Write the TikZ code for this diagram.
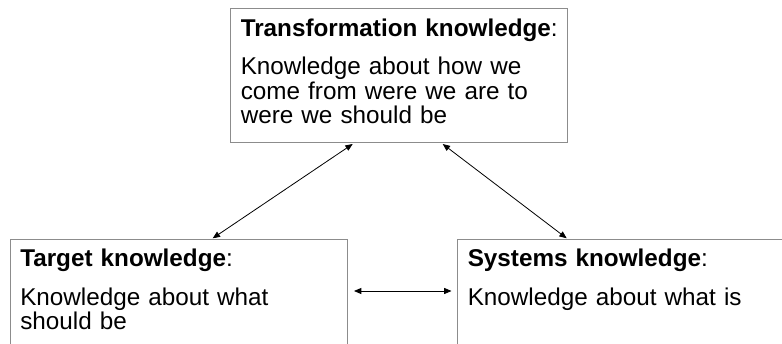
\documentclass[tikz,border=0pt]{standalone}
\usepackage{fontspec}
\setmainfont{Liberation Sans}
\usetikzlibrary{arrows.meta,calc}

\begin{document}
\begin{tikzpicture}[x=0.75pt, y=-0.75pt,
		box/.style={draw=gray!90, line width=0.75pt, minimum width=252.75pt, minimum height=100.5pt, inner sep=0pt, outer sep=0pt, anchor=north west},
		boxtext/.style={anchor=north west, text width=237.75pt, align=left, inner xsep=7.5pt, inner ysep=7.5pt, font=\fontsize{18.2}{18.4}\selectfont},
		link/.style={black, line width=0.6pt, {Triangle[length=5.5pt,width=4.5pt]}-{Triangle[length=5.5pt,width=4.5pt]}}]
			\useasboundingbox (0,0) rectangle (782,343);
			\clip (0,0) rectangle (782,343);
			\node[box] (transform) at (230.5, 8.5) {};
			\node[boxtext] (transformtext) at (transform.north west) {\textbf{Transformation knowledge}:\\[10.5pt]Knowledge about how we\\come from were we are to\\were we should be};
			\node[box] (target) at (10, 239) {};
			\node[boxtext] (targettext) at (target.north west) {\textbf{Target knowledge}:\\[10.5pt]Knowledge about what\\should be};
			\node[box] (systems) at (457.5, 239) {};
			\node[boxtext] (systemstext) at (systems.north west) {\textbf{Systems knowledge}:\\[10.5pt]Knowledge about what is};
			\draw[link] ($(transform.south west)+(122.2, 1.5)$) -- ($(target.north west)+(202.7, -0.7)$);
			\draw[link] ($(transform.south west)+(212.2, 1.5)$) -- ($(systems.north west)+(109.2, -0.7)$);
			\draw[link] ($(target.north east)+(7, 52)$) -- ($(systems.north west)+(-6, 52)$);
		\end{tikzpicture}
\end{document}
